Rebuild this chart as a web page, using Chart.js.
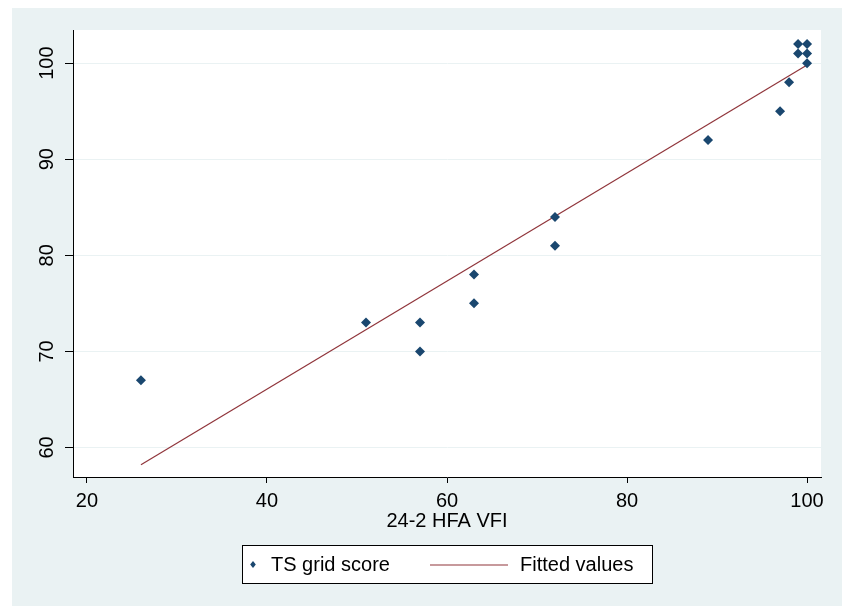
<!DOCTYPE html>
<html><head><meta charset="utf-8">
<script src="https://cdn.jsdelivr.net/npm/chart.js@4/dist/chart.umd.min.js"></script>
<style>html,body{margin:0;padding:0;background:#fff;}canvas{display:block;}</style>
</head><body>
<canvas id="c" width="842" height="606"></canvas>
<script>
// ---- data ----
const vfiValues   = [26, 51, 57, 57, 63, 63, 72, 72, 89, 97, 98, 100, 99, 100, 99, 100];
const gridScores  = [67, 73, 73, 70, 78, 75, 84, 81, 92, 95, 98, 100, 101, 101, 102, 102];
const fittedX     = [26, 100];
const fittedY     = [58.2, 99.8];
const xTickValues = [20, 40, 60, 80, 100];
const yTickValues = [60, 70, 80, 90, 100];
const seriesLabels = ['TS grid score', 'Fitted values'];
const xAxisTitle  = '24-2 HFA VFI';

const FONT = 'Liberation Sans, Arial, sans-serif';
const NAVY = '#1A476F';
const MAROON = '#90353B';
const BG = '#EAF2F3';

const scatterData = vfiValues.map((v, i) => ({x: v, y: gridScores[i]}));
const fitData = fittedX.map((v, i) => ({x: v, y: fittedY[i]}));

const bgPlugin = {
  id: 'bg',
  beforeDraw(chart) {
    const {ctx, chartArea: a} = chart;
    ctx.save();
    ctx.fillStyle = '#fff';
    ctx.fillRect(0, 0, chart.width, chart.height);
    ctx.fillStyle = BG;
    ctx.fillRect(12, 8, chart.width - 12, chart.height - 8);
    ctx.fillStyle = '#fff';
    ctx.fillRect(a.left, a.top, a.right - a.left, a.bottom - a.top);
    ctx.restore();
  }
};

const legendPlugin = {
  id: 'boxLegend',
  afterDraw(chart) {
    const ctx = chart.ctx;
    const ds = chart.data.datasets;
    ctx.save();
    const bx = 242.5, by = 545.5, bw = 410, bh = 38;
    ctx.fillStyle = '#fff';
    ctx.fillRect(bx, by, bw, bh);
    ctx.strokeStyle = '#000';
    ctx.lineWidth = 1;
    ctx.strokeRect(bx, by, bw, bh);
    const cy = by + bh / 2;
    // marker
    ctx.fillStyle = ds[0].backgroundColor;
    const mx = 253, r = 3.5;
    ctx.beginPath();
    ctx.moveTo(mx, cy - r); ctx.lineTo(mx + r * 0.8, cy); ctx.lineTo(mx, cy + r); ctx.lineTo(mx - r * 0.8, cy); ctx.closePath();
    ctx.fill();
    ctx.font = '20px ' + FONT;
    ctx.fillStyle = '#000';
    ctx.textBaseline = 'middle';
    ctx.textAlign = 'left';
    ctx.fillText(ds[0].label, 271, cy + 1);
    // line
    ctx.strokeStyle = ds[1].borderColor;
    ctx.lineWidth = 1.2;
    ctx.beginPath();
    ctx.moveTo(430, cy + 0.5); ctx.lineTo(508, cy + 0.5);
    ctx.stroke();
    ctx.fillStyle = '#000';
    ctx.fillText(ds[1].label, 520, cy + 1);
    ctx.restore();
  }
};

new Chart(document.getElementById('c'), {
  data: {
    datasets: [
      {
        type: 'scatter',
        label: seriesLabels[0],
        data: scatterData,
        pointStyle: 'rectRot',
        pointRadius: 5,
        pointBorderWidth: 0,
        backgroundColor: NAVY,
        borderColor: NAVY,
        order: 1
      },
      {
        type: 'line',
        label: seriesLabels[1],
        data: fitData,
        borderColor: MAROON,
        borderWidth: 1.2,
        pointRadius: 0,
        fill: false,
        tension: 0,
        order: 2
      }
    ]
  },
  options: {
    responsive: false,
    animation: false,
    devicePixelRatio: 1,
    layout: {padding: {left: 0, top: 30, right: 21, bottom: 69}},
    plugins: {legend: {display: false}, tooltip: {enabled: false}},
    scales: {
      x: {
        type: 'linear',
        position: 'bottom',
        min: 18.45,
        max: 101.55,
        afterBuildTicks: s => { s.ticks = xTickValues.map(v => ({value: v})); },
        afterFit: s => { s.height = 60; },
        ticks: {color: '#000', font: {family: FONT, size: 20}, padding: 6, maxRotation: 0, minRotation: 0},
        grid: {drawOnChartArea: false, tickColor: '#000', tickLength: 6, lineWidth: 1},
        border: {color: '#000', width: 1},
        title: {display: true, text: xAxisTitle, color: '#000', font: {family: FONT, size: 20}, padding: {top: 0, bottom: 4}}
      },
      y: {
        type: 'linear',
        position: 'left',
        min: 56.93,
        max: 103.45,
        afterBuildTicks: s => { s.ticks = yTickValues.map(v => ({value: v})); },
        afterFit: s => { s.width = 73; },
        ticks: {color: '#000', font: {family: FONT, size: 20}, padding: 1, minRotation: 90, maxRotation: 90, crossAlign: 'center'},
        grid: {color: BG, tickColor: '#000', tickLength: 8, lineWidth: 1},
        border: {color: '#000', width: 1}
      }
    }
  },
  plugins: [bgPlugin, legendPlugin]
});
</script>
</body></html>
